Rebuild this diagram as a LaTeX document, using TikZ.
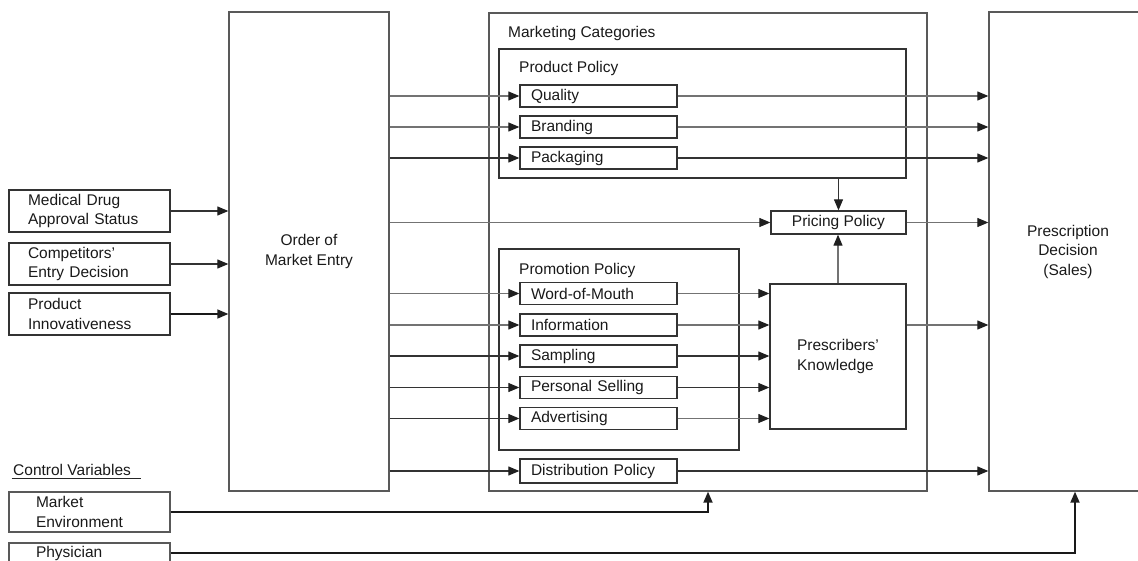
\documentclass[tikz,border=0pt]{standalone}
\usepackage{fontspec}
\setmainfont{Liberation Sans}
\usetikzlibrary{arrows.meta}
\begin{document}
\begin{tikzpicture}[x=1pt,y=-1pt,
  every node/.style={font=\fontsize{15.5}{19.5}\selectfont, text=black!90},
  box/.style={draw=black!65, line width=1.3pt, rectangle, inner sep=0pt},
  darkbox/.style={box, draw=black!80},
  item/.style={darkbox, minimum height=22pt, text width=135pt, inner xsep=11pt, align=left},
  leftbox/.style={darkbox, minimum height=42pt, text width=123pt, inner xsep=19pt, align=left},
  ctrlbox/.style={box, minimum height=40pt, text width=107pt, inner xsep=27pt, align=left},
  lbl/.style={anchor=west, inner sep=0pt},
  arr/.style={-{Triangle[length=11pt,width=9pt,color=black!88]}, line width=1.1pt, draw=black!80},
  arrlight/.style={arr, draw=black!55},
  arrthick/.style={arr, line width=1.8pt, draw=black!90},
]
\useasboundingbox (0,0) rectangle (1138,560);
\clip (0,0) rectangle (1138,560);

% main blocks
\node[box, minimum width=160pt, minimum height=479pt, align=center] (order) at (309,251.5) {Order of\\Market Entry};
\node[box, minimum width=438pt, minimum height=478pt] (outer) at (708,252) {};
\node[box, minimum width=158pt, minimum height=479pt, align=center] (presc) at (1068,251.5) {Prescription\\Decision\\(Sales)};

% marketing categories
\node[lbl] (mktcat) at (508,33) {Marketing Categories};
\node[darkbox, minimum width=407pt, minimum height=129pt] (prodpol) at (702.5,113.5) {};
\node[lbl] (prodlbl) at (519,68) {Product Policy};
\node[item] (quality) at (598.5,96) {Quality};
\node[item] (branding) at (598.5,127) {Branding};
\node[item] (packaging) at (598.5,158) {Packaging};

\node[darkbox, minimum width=135pt, minimum height=23pt] (pricing) at (838.5,222.5) {Pricing Policy};

\node[darkbox, minimum width=240pt, minimum height=201pt] (promo) at (619,349.5) {};
\node[lbl] (promolbl) at (519,270) {Promotion Policy};
\node[item] (wom) at (598.5,293.5) {Word-of-Mouth};
\node[item] (info) at (598.5,325) {Information};
\node[item] (samp) at (598.5,356) {Sampling};
\node[item] (pers) at (598.5,387.5) {Personal Selling};
\node[item] (adv) at (598.5,418.5) {Advertising};
\node[item, minimum height=24pt] (distr) at (598.5,471) {Distribution Policy};

\node[darkbox, minimum width=136pt, minimum height=145pt, align=left] (pk) at (838,356.5) {Prescribers'\\Knowledge};

% antecedents
\node[leftbox] (mdas) at (89.5,211) {Medical Drug\\Approval Status};
\node[leftbox] (comp) at (89.5,264) {Competitors'\\Entry Decision};
\node[leftbox] (innov) at (89.5,314) {Product\\Innovativeness};

% control variables
\node[lbl] (ctrl) at (13,470) {Control Variables};
\draw[line width=1.2pt, black!85] ([shift={(-1.5,3)}]ctrl.base west) -- ([shift={(9.5,3)}]ctrl.base east);
\node[ctrlbox] (menv) at (89.5,512) {Market\\Environment};
\node[box, minimum height=20pt, text width=107pt, inner xsep=27pt, align=left] (phys) at (89.5,553) {Physician};

% antecedents into order of entry
\draw[arr] (mdas.east) -- (mdas -| order.west);
\draw[arr] (comp.east) -- (comp -| order.west);
\draw[arrthick, line width=1.5pt] (innov.east) -- (innov -| order.west);

% order of entry into the marketing instruments
\draw[arrlight] (order.east |- quality) -- (quality.west);
\draw[arrlight] (order.east |- branding) -- (branding.west);
\draw[arr] (order.east |- packaging) -- (packaging.west);
\draw[arrlight] (order.east |- pricing) -- (pricing.west);
\draw[arrlight] (order.east |- wom) -- (wom.west);
\draw[arrlight] (order.east |- info) -- (info.west);
\draw[arr] (order.east |- samp) -- (samp.west);
\draw[arr] (order.east |- pers) -- (pers.west);
\draw[arr] (order.east |- adv) -- (adv.west);
\draw[arr] (order.east |- distr) -- (distr.west);

% product policy into sales
\draw[arrlight] (quality.east) -- (quality -| presc.west);
\draw[arrlight] (branding.east) -- (branding -| presc.west);
\draw[arr] (packaging.east) -- (packaging -| presc.west);

% pricing
\draw[arr] (pricing |- prodpol.south) -- (pricing.north);
\draw[arrlight] (pk.north) -- (pk.north |- pricing.south);
\draw[arrlight] (pricing.east) -- (pricing -| presc.west);

% promotion into prescribers' knowledge
\draw[arrlight] (wom.east) -- (wom -| pk.west);
\draw[arrlight] (info.east) -- (info -| pk.west);
\draw[arr] (samp.east) -- (samp -| pk.west);
\draw[arr] (pers.east) -- (pers -| pk.west);
\draw[arrlight] (adv.east) -- (adv -| pk.west);
\draw[arrlight] (pk.east |- info) -- (info -| presc.west);

% distribution into sales
\draw[arr] (distr.east) -- (distr -| presc.west);

% control variables
\draw[arrthick] (menv.east) -| (outer.south);
\draw[arrthick] (phys.east) -| ([xshift=7]presc.south);
\end{tikzpicture}
\end{document}
